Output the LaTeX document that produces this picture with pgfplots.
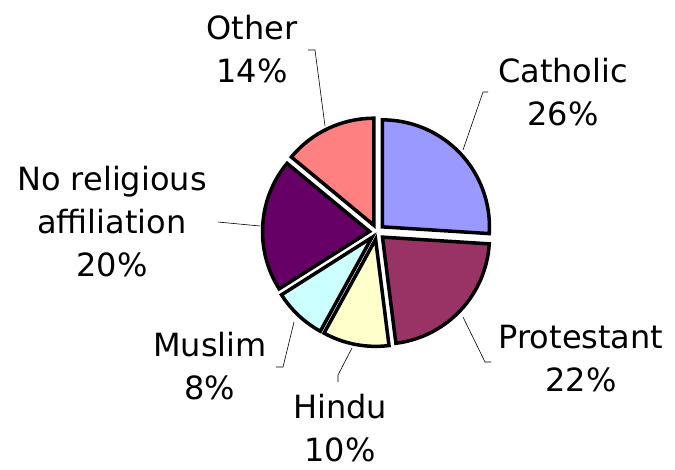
\documentclass[border=0pt]{standalone}
\usepackage{pgfplots}
\usepackage{pgfplotstable}
\pgfplotsset{compat=1.18}
\usepackage{fontspec}
\setmainfont{DejaVu Sans}
\definecolor{cath}{HTML}{9999FF}
\definecolor{prot}{HTML}{993366}
\definecolor{hind}{HTML}{FFFFCC}
\definecolor{musl}{HTML}{CCFFFF}
\definecolor{norel}{HTML}{660066}
\definecolor{other}{HTML}{FF8080}
\pgfplotstableread[col sep=comma]{
label,value,color
Catholic,26,cath
Protestant,22,prot
Hindu,10,hind
Muslim,8,musl
No religious affiliation,20,norel
Other,14,other
}\datatable
\begin{document}
\begin{tikzpicture}
\begin{axis}[scale only axis, width=675pt, height=469pt,
  xmin=0, xmax=675, ymin=0, ymax=469, y dir=reverse,
  hide axis, clip=false]
\path[draw=none] (axis cs:0,0) rectangle (axis cs:675,469);
\gdef\cum{0}
\pgfplotsinvokeforeach{0,...,5}{
  \pgfplotstablegetelem{#1}{value}\of\datatable
  \pgfmathsetmacro\va{\pgfplotsretval}
  \pgfplotstablegetelem{#1}{color}\of\datatable
  \edef\col{\pgfplotsretval}
  \pgfmathsetmacro\sa{90-3.6*\cum}
  \pgfmathsetmacro\ea{90-3.6*(\cum+\va)}
  \pgfmathsetmacro\ma{(\sa+\ea)/2}
  \pgfmathsetmacro\newcum{\cum+\va}
  \xdef\cum{\newcum}
  \edef\temp{\noexpand\draw[line width=3.5pt, fill=\col, shift={(axis cs:377,232)}] (\ma:7.5pt) -- ++(\sa:107pt) arc[start angle=\sa, end angle=\ea, radius=107pt] -- cycle;}
  \temp
}
% leader lines
\draw[line width=0.6pt] (axis cs:308,50) -- (axis cs:315,50) -- (axis cs:325,126);
\draw[line width=0.6pt] (axis cs:488,92) -- (axis cs:483,92) -- (axis cs:463,150);
\draw[line width=0.6pt] (axis cs:491,362) -- (axis cs:485,362) -- (axis cs:463,317);
\draw[line width=0.6pt] (axis cs:338,382) -- (axis cs:338,375) -- (axis cs:352,348);
\draw[line width=0.6pt] (axis cs:276,367) -- (axis cs:283,367) -- (axis cs:294,322);
\draw[line width=0.6pt] (axis cs:218,222) -- (axis cs:260,226);
% labels
\tikzset{lab/.style={align=center, inner sep=0pt, font=\fontsize{32}{43}\selectfont}}
\node[lab] at (axis cs:252,49) {Other\\14\%};
\node[lab] at (axis cs:563,92) {Catholic\\26\%};
\node[lab] at (axis cs:581,359) {Protestant\\22\%};
\node[lab] at (axis cs:340,428) {Hindu\\10\%};
\node[lab] at (axis cs:210,366) {Muslim\\8\%};
\node[lab] at (axis cs:112,222) {No religious\\affiliation\\20\%};
\end{axis}
\end{tikzpicture}
\end{document}
